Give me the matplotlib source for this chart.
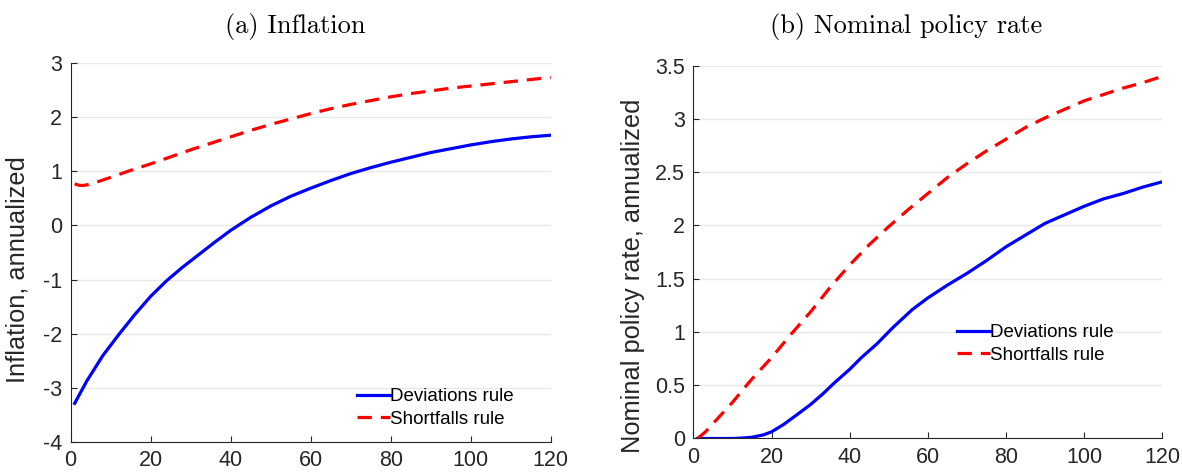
import matplotlib
matplotlib.use('Agg')
import matplotlib.pyplot as plt
from matplotlib.ticker import FuncFormatter

plt.rcParams['font.family'] = ['Liberation Sans', 'DejaVu Sans']
plt.rcParams['axes.unicode_minus'] = False

# inflation paths (quarters after the shock)
infl_dev_x = [1, 4, 8, 12, 16, 20, 24, 28, 32, 36, 40, 45, 50, 55, 60, 65, 70,
              75, 80, 85, 90, 95, 100, 105, 110, 115, 120]
infl_dev = [-3.29, -2.88, -2.41, -2.02, -1.65, -1.31, -1.02, -0.77, -0.54, -0.31,
            -0.09, 0.15, 0.36, 0.54, 0.69, 0.83, 0.96, 1.07, 1.17, 1.26, 1.35,
            1.42, 1.49, 1.55, 1.60, 1.64, 1.67]
infl_short_x = [1, 2, 3, 4, 6, 8, 10, 15, 20, 25, 30, 35, 40, 45, 50, 55, 60,
                65, 70, 75, 80, 85, 90, 95, 100, 105, 110, 115, 120]
infl_short = [0.77, 0.745, 0.74, 0.75, 0.79, 0.84, 0.89, 1.02, 1.14, 1.27, 1.40,
              1.52, 1.64, 1.76, 1.87, 1.97, 2.07, 2.16, 2.24, 2.31, 2.38, 2.44,
              2.49, 2.54, 2.58, 2.62, 2.66, 2.70, 2.74]

# nominal policy rate paths
rate_dev_x = [1, 5, 10, 12, 15, 18, 20, 23, 26, 30, 33, 36, 40, 43, 47, 51, 56,
              60, 65, 70, 75, 80, 85, 90, 95, 100, 105, 110, 115, 120]
rate_dev = [0.0, 0.0, 0.0, 0.003, 0.012, 0.035, 0.063, 0.13, 0.21, 0.32, 0.415,
            0.52, 0.65, 0.76, 0.89, 1.04, 1.21, 1.32, 1.44, 1.55, 1.67, 1.80,
            1.91, 2.02, 2.10, 2.18, 2.25, 2.30, 2.36, 2.41]
rate_short_x = [1, 3, 5, 7, 10, 12, 15, 20, 25, 30, 35, 40, 45, 50, 55, 60, 65,
                70, 75, 80, 85, 90, 95, 100, 105, 110, 115, 120]
rate_short = [0.0, 0.06, 0.14, 0.22, 0.34, 0.43, 0.56, 0.76, 0.98, 1.19, 1.42,
              1.63, 1.82, 1.99, 2.15, 2.30, 2.45, 2.58, 2.70, 2.81, 2.92, 3.01,
              3.09, 3.17, 3.23, 3.29, 3.34, 3.40]

x_ticks = [0, 20, 40, 60, 80, 100, 120]
infl_ticks = [-4, -3, -2, -1, 0, 1, 2, 3]
rate_ticks = [0, 0.5, 1, 1.5, 2, 2.5, 3, 3.5]

fig = plt.figure(figsize=(11.82, 4.74), dpi=100)
ax1 = fig.add_axes([0.0598, 0.0681, 0.4061, 0.7983])
ax2 = fig.add_axes([0.5867, 0.0749, 0.3966, 0.7865])


def style_axis(ax, yticks, ylabel, label_xy, legend_anchor):
    ax.set_xlim(0, 120)
    ax.set_ylim(yticks[0], yticks[-1])
    ax.set_xticks(x_ticks)
    ax.set_yticks(yticks)
    ax.yaxis.set_major_formatter(FuncFormatter(lambda v, p: '%g' % v))
    ax.grid(axis='y', color='#e8e8e8', linewidth=1.0)
    ax.set_axisbelow(True)
    for side in ['top', 'right']:
        ax.spines[side].set_visible(False)
    for side in ['left', 'bottom']:
        ax.spines[side].set_color('#262626')
        ax.spines[side].set_linewidth(0.8)
    ax.tick_params(direction='in', length=4, width=0.8, color='#262626',
                   labelsize=15.5, labelcolor='#262626', pad=6)
    ax.set_ylabel(ylabel, fontsize=18.3, color='#262626')
    ax.yaxis.set_label_coords(*label_xy)
    ax.legend(loc='upper left', bbox_to_anchor=legend_anchor, frameon=False,
              fontsize=13.5, handlelength=1.75, handletextpad=0.0,
              labelspacing=0.3, borderpad=0.0, borderaxespad=0.0)


ax1.plot(infl_dev_x, infl_dev, color='blue', linewidth=2.3, label='Deviations rule')
ax1.plot(infl_short_x, infl_short, color='red', linewidth=2.3, dashes=(4.5, 2.8),
         label='Shortfalls rule')
style_axis(ax1, infl_ticks, 'Inflation, annualized', (-0.085, 0.456),
           (0.596, 0.142))

ax2.plot(rate_dev_x, rate_dev, color='blue', linewidth=2.3, label='Deviations rule')
ax2.plot(rate_short_x, rate_short, color='red', linewidth=2.3, dashes=(4.5, 2.8),
         label='Shortfalls rule')
style_axis(ax2, rate_ticks, 'Nominal policy rate, annualized', (-0.103, 0.436),
           (0.562, 0.307))

# panel captions
fig.text(0.25, 0.9304, '(a) Inflation', fontfamily='cmr10', fontsize=19,
         ha='center', va='baseline')
fig.text(0.7665, 0.9304, '(b) Nominal policy rate', fontfamily='cmr10',
         fontsize=19, ha='center', va='baseline')

fig.savefig('out.png', dpi=100)
